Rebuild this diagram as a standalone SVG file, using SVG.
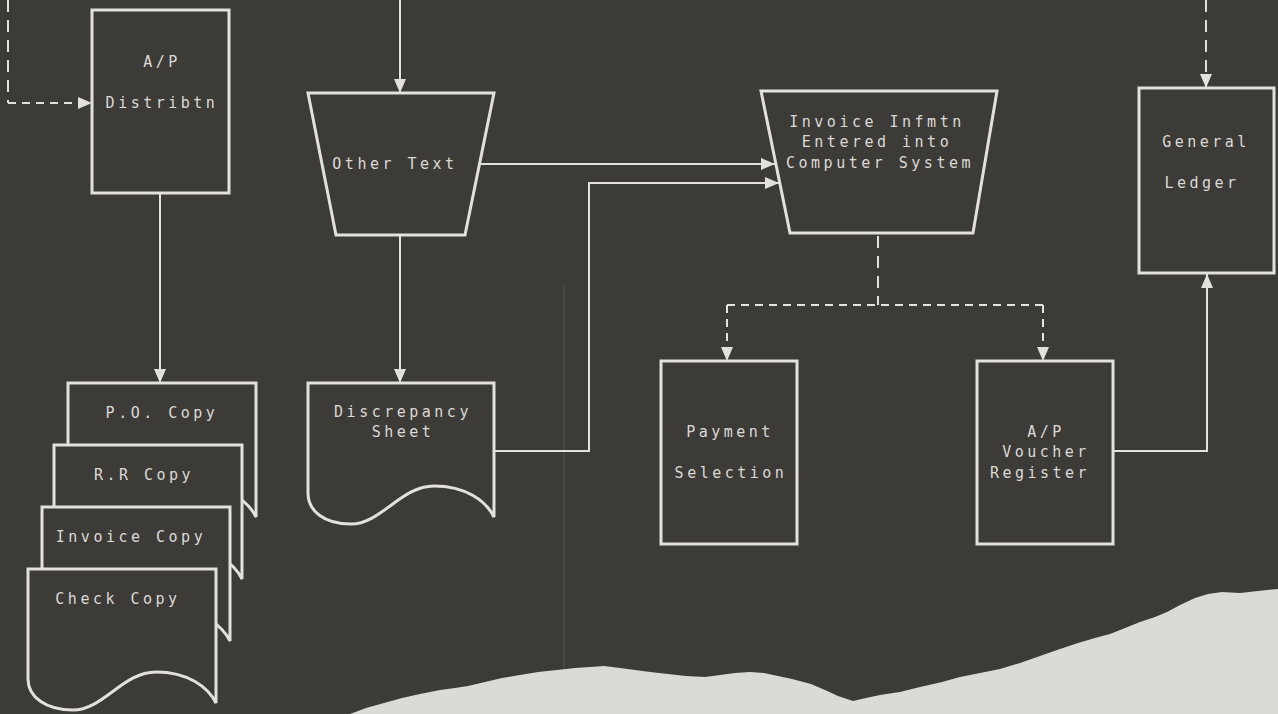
<svg xmlns="http://www.w3.org/2000/svg" width="1278" height="714" viewBox="0 0 1278 714">
<style>
.shape{fill:#3d3b38;stroke:#e4e1dc;stroke-width:3;stroke-linejoin:miter}
.ln{fill:none;stroke:#e4e1dc;stroke-width:2}
.dash{fill:none;stroke:#e4e1dc;stroke-width:2;stroke-dasharray:8 6}
.dashv{fill:none;stroke:#e4e1dc;stroke-width:2;stroke-dasharray:12 8}
.t{font-family:"DejaVu Sans Mono","Liberation Mono",monospace;font-size:15px;letter-spacing:3.5px;fill:#dcd9d4;text-anchor:middle}
</style>
<defs>
<marker id="ah" markerUnits="userSpaceOnUse" markerWidth="14" markerHeight="12" refX="14" refY="6" orient="auto">
<path d="M0,0 L14,6 L0,12 Z" fill="#e4e1dc"/>
</marker>
</defs>
<rect x="0" y="0" width="1278" height="714" fill="#3d3b38"/>
<line x1="564" y1="285" x2="564" y2="714" stroke="#ffffff" stroke-opacity="0.1" stroke-width="1"/>

<g id="connectors">
<path class="dashv" d="M8,0 V103" />
<path class="dash" d="M8,103 H92" marker-end="url(#ah)"/>
<path class="ln" d="M400,0 V93" marker-end="url(#ah)"/>
<path class="ln" d="M160,193 V383" marker-end="url(#ah)"/>
<path class="ln" d="M400,235 V383" marker-end="url(#ah)"/>
<path class="ln" d="M481,164 H775" marker-end="url(#ah)"/>
<path class="ln" d="M494,451 H589 V183 H779" marker-end="url(#ah)"/>
<path class="dashv" d="M878,236 V305"/>
<path class="dash" d="M727,305 H1043"/>
<path class="dash" d="M727,305 V361" marker-end="url(#ah)"/>
<path class="dash" d="M1043,305 V361" marker-end="url(#ah)"/>
<path class="dashv" d="M1206,0 V88" marker-end="url(#ah)"/>
<path class="ln" d="M1113,451 H1207 V274" marker-end="url(#ah)"/>
</g>

<g id="ap-distribtn">
<rect class="shape" x="92" y="10" width="137" height="183"/>
<text class="t" x="162" y="67">A/P</text>
<text class="t" x="162" y="108">Distribtn</text>
</g>

<g id="other-text">
<polygon class="shape" points="308,93 494,93 465,235 336,235"/>
<text class="t" x="395" y="169">Other Text</text>
</g>

<g id="invoice-entered">
<polygon class="shape" points="761,91 997,91 973,233 790,233"/>
<text class="t" x="877" y="127">Invoice Infmtn</text>
<text class="t" x="877" y="147">Entered into</text>
<text class="t" x="880" y="168">Computer System</text>
</g>

<g id="general-ledger">
<rect class="shape" x="1139" y="88" width="135" height="185"/>
<text class="t" x="1206" y="147">General</text>
<text class="t" x="1202" y="188">Ledger</text>
</g>

<g id="po-copy">
<path class="shape" d="M68,383 H256 V517 C248,501 228,486 196,486 C163,486 143,524 113,524 C86,524 68,511 68,493 Z"/>
<text class="t" x="162" y="418">P.O. Copy</text>
</g>
<g id="rr-copy">
<path class="shape" d="M54,445 H242 V579 C234,563 214,548 182,548 C149,548 129,586 99,586 C72,586 54,573 54,555 Z"/>
<text class="t" x="144" y="480">R.R Copy</text>
</g>
<g id="invoice-copy">
<path class="shape" d="M42,507 H230 V641 C222,625 202,610 170,610 C137,610 117,648 87,648 C60,648 42,635 42,617 Z"/>
<text class="t" x="131" y="542">Invoice Copy</text>
</g>
<g id="check-copy">
<path class="shape" d="M28,569 H216 V703 C208,687 188,672 156,672 C123,672 103,710 73,710 C46,710 28,697 28,679 Z"/>
<text class="t" x="118" y="604">Check Copy</text>
</g>

<g id="discrepancy-sheet">
<path class="shape" d="M308,383 H494 V517 C486,501 466,486 434,486 C401,486 381,524 351,524 C324,524 308,511 308,493 Z"/>
<text class="t" x="403" y="417">Discrepancy</text>
<text class="t" x="403" y="437">Sheet</text>
</g>

<g id="payment-selection">
<rect class="shape" x="661" y="361" width="136" height="183"/>
<text class="t" x="730" y="437">Payment</text>
<text class="t" x="731" y="478">Selection</text>
</g>

<g id="ap-voucher-register">
<rect class="shape" x="977" y="361" width="136" height="183"/>
<text class="t" x="1046" y="437">A/P</text>
<text class="t" x="1046" y="457">Voucher</text>
<text class="t" x="1040" y="478">Register</text>
</g>

<path id="torn-paper" fill="#dbdad5" d="M350,714 L366,708 L384,703 L402,698 L420,694 L440,690 L455,688 L468,686 L485,682 L502,678 L520,675 L538,672 L557,670 L575,668 L590,667 L604,666 L620,668 L635,670 L650,672 L668,674 L686,676 L705,677 L720,675 L735,673 L750,672 L764,673 L778,676 L792,679 L811,684 L825,690 L838,696 L853,701 L866,698 L880,695 L900,692 L920,687 L942,682 L960,677 L980,673 L1000,669 L1020,663 L1040,656 L1060,649 L1078,643 L1095,638 L1110,634 L1125,628 L1140,622 L1155,617 L1167,612 L1180,605 L1195,598 L1208,594 L1222,592 L1240,593 L1258,591 L1278,589 L1278,714 Z"/>
</svg>
